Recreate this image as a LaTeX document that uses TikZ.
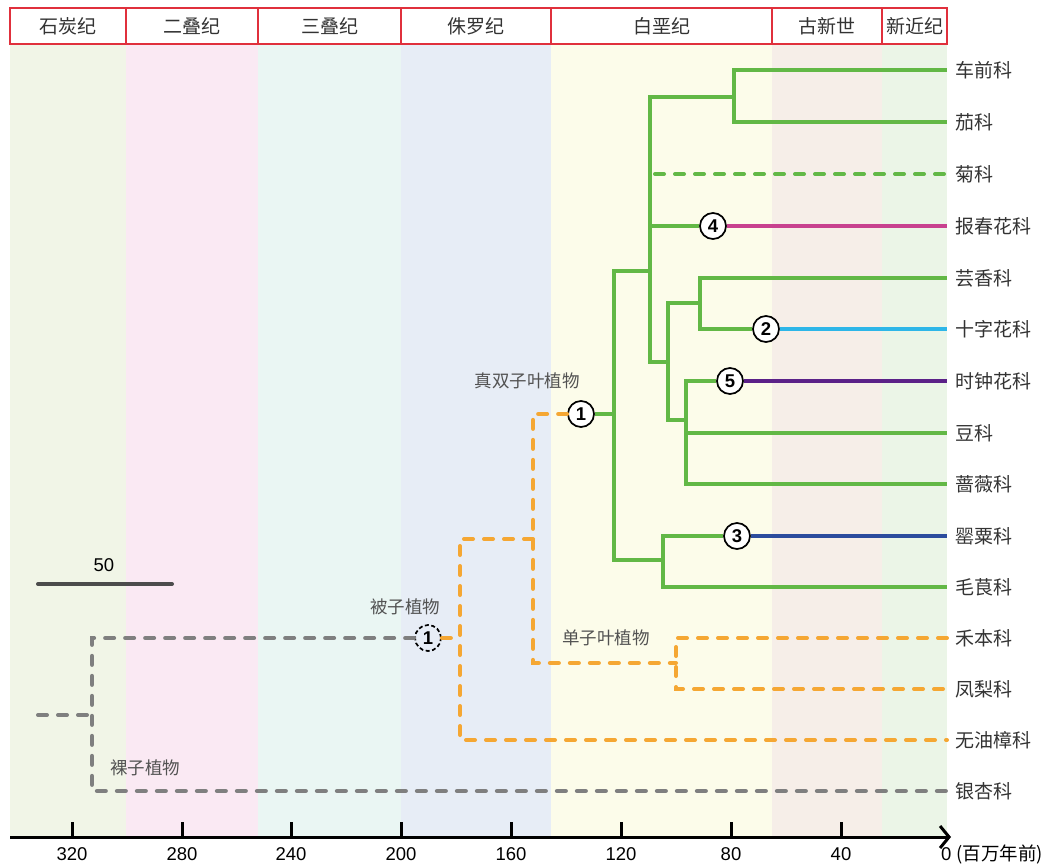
\documentclass[tikz,border=0pt]{standalone}
\usepackage{fontspec}
\setmainfont{Liberation Sans}
\newfontfamily\cjk{Noto Sans CJK SC}
\usetikzlibrary{arrows.meta}
\definecolor{grn}{HTML}{62B846}
\definecolor{org}{HTML}{F5A733}
\definecolor{gry}{HTML}{7F7F7F}
\definecolor{mag}{HTML}{C8418F}
\definecolor{cyn}{HTML}{2DB6E8}
\definecolor{pur}{HTML}{5B2188}
\definecolor{dbl}{HTML}{2C4C9E}
\definecolor{hred}{HTML}{E0303C}
\definecolor{txt}{HTML}{333333}
\definecolor{bA}{HTML}{F1F5E7}
\definecolor{bB}{HTML}{FAE9F3}
\definecolor{bC}{HTML}{EAF6F3}
\definecolor{bD}{HTML}{E7EDF6}
\definecolor{bE}{HTML}{FCFCEA}
\definecolor{bF}{HTML}{F6EEE8}
\definecolor{bG}{HTML}{EBF5E7}
\tikzset{
  hdr/.style={draw=hred, line width=2pt, minimum height=36pt, inner sep=0pt, font=\cjk\fontsize{19}{22}\selectfont, text=txt},
  leaf/.style={anchor=west, inner sep=0pt, font=\cjk\fontsize{19}{22}\selectfont, text=txt},
  grp/.style={inner sep=0pt, font=\cjk\fontsize{17.5}{20}\selectfont, text=txt!85},
  num/.style={circle, draw=black, line width=1.7pt, fill=white, minimum size=26pt, inner sep=0pt, font=\bfseries\fontsize{18.5}{20}\selectfont},
  numd/.style={circle, draw=black, dash pattern=on 4pt off 2.5pt, line width=1.7pt, minimum size=26pt, inner sep=0pt, font=\bfseries\fontsize{18.5}{20}\selectfont},
  gl/.style={draw=grn, line width=4pt},
  gld/.style={draw=grn, line width=4pt, line cap=round, dash pattern=on 9pt off 11pt},
  ol/.style={draw=org, line width=4pt, line cap=round, dash pattern=on 9pt off 11pt},
  gyl/.style={draw=gry, line width=4pt, line cap=round, dash pattern=on 9pt off 11pt},
  tick/.style={line width=3pt},
  ticklab/.style={inner sep=0pt, font=\fontsize{18.5}{22}\selectfont}
}
\begin{document}
\begin{tikzpicture}[x=1pt,y=-1pt]
\useasboundingbox (0,0) rectangle (1064,865);
% background bands
\fill[bA] (10,44) rectangle (126,837);
\fill[bB] (126,44) rectangle (258,837);
\fill[bC] (258,44) rectangle (401,837);
\fill[bD] (401,44) rectangle (551,837);
\fill[bE] (551,44) rectangle (772,837);
\fill[bF] (772,44) rectangle (882,837);
\fill[bG] (882,44) rectangle (947,837);
% header
\node[hdr, minimum width=116pt] (h1) at (68,26) {石炭纪};
\node[hdr, minimum width=132pt] (h2) at (192,26) {二叠纪};
\node[hdr, minimum width=143pt] (h3) at (329.5,26) {三叠纪};
\node[hdr, minimum width=150pt] (h4) at (476,26) {侏罗纪};
\node[hdr, minimum width=221pt] (h5) at (661.5,26) {白垩纪};
\node[hdr, minimum width=110pt] (h6) at (827,26) {古新世};
\node[hdr, minimum width=65pt] (h7) at (914.5,26) {新近纪};
% leaf ends and labels
\foreach \i/\y/\t in {1/70/车前科,2/122/茄科,3/174/菊科,4/226/报春花科,5/278/芸香科,6/329/十字花科,7/381/时钟花科,8/433/豆科,9/484/蔷薇科,10/536/罂粟科,11/587/毛茛科,12/638/禾本科,13/689/凤梨科,14/740/无油樟科,15/791/银杏科}{
  \coordinate (e\i) at (947,\y);
  \node[leaf] (l\i) at (955,\y) {\t};
}
% internal points
\coordinate (nA) at (734,97);
\coordinate (nB) at (650,271);
\coordinate (nC) at (668,362);
\coordinate (nD) at (700,303);
\coordinate (nE) at (686,420);
\coordinate (nF) at (614,414);
\coordinate (nG) at (663,560);
\coordinate (j3) at (650,174);
\coordinate (j4) at (650,226);
\coordinate (j8) at (686,433);
\coordinate (nH) at (533,539);
\coordinate (nI) at (460,638);
\coordinate (nM) at (676,663);
\coordinate (nJ) at (92,715);
\coordinate (root) at (38,715);
% circles
\node[num] (c4) at (713,226) {4};
\node[num] (c2) at (766,329) {2};
\node[num] (c5) at (730,381) {5};
\node[num] (c3) at (737,536) {3};
\node[num] (c1) at (581,414) {1};
\node[numd] (c1d) at (428,638) {1};
% green tree
\draw[gl] (e1) -| (nA) |- (e2);
\draw[gl] (nA) -| (nB);
\draw[gl] (nB) |- (nC);
\draw[gld] (j3) ++(5,0) -- (e3);
\draw[gl] (j4) -- (c4);
\draw[draw=mag, line width=4pt] (c4) -- (e4);
\draw[gl] (nD) -| (nC) |- (nE);
\draw[gl] (e5) -| (nD) |- (c2);
\draw[draw=cyn, line width=4pt] (c2) -- (e6);
\draw[gl] (c5) -| (nE) |- (e9);
\draw[gl] (j8) -- (e8);
\draw[draw=pur, line width=4pt] (c5) -- (e7);
\draw[gl] (nB) -| (nF) |- (nG);
\draw[gl] (c1) -- (nF);
\draw[gl] (c3) -| (nG) |- (e11);
\draw[draw=dbl, line width=4pt] (c3) -- (e10);
% orange tree
\draw[ol] (c1) -| (nH) |- (nM);
\draw[ol] (nH) -| (nI) |- (e14);
\draw[ol] (c1d) -- (nI);
\draw[ol] (e12) -| (nM) |- (e13);
% gray tree
\draw[gyl] (c1d) -| (nJ) |- (e15);
\draw[gyl] (root) -- (nJ);
% group labels
\node[grp] (g1) at (527,381) {真双子叶植物};
\node[grp] (g2) at (405,607) {被子植物};
\node[grp] (g3) at (606,638) {单子叶植物};
\node[grp] (g4) at (145,768) {裸子植物};
% scale bar
\coordinate (s0) at (38,584);
\coordinate (s1) at (172,584);
\draw[draw=black!70, line width=4pt, line cap=round] (s0) -- (s1);
\node[ticklab] (s50) at (104,565) {50};
% axis
\coordinate (a0) at (10,837);
\coordinate (a1) at (951,837);
\draw[line width=3pt, -{Straight Barb[length=9pt,width=22pt,line width=3pt]}] (a0) -- (a1);
\foreach \x/\v in {72/320,182/280,291/240,401/200,511/160,621/120,731/80,841/40}{
  \draw[tick] (\x,837) -- (\x,822);
  \node[ticklab] at (\x,854) {\v};
}
\node[ticklab, anchor=west] (zero) at (941,854) {0 {\cjk (百万年前)}};
\end{tikzpicture}
\end{document}
